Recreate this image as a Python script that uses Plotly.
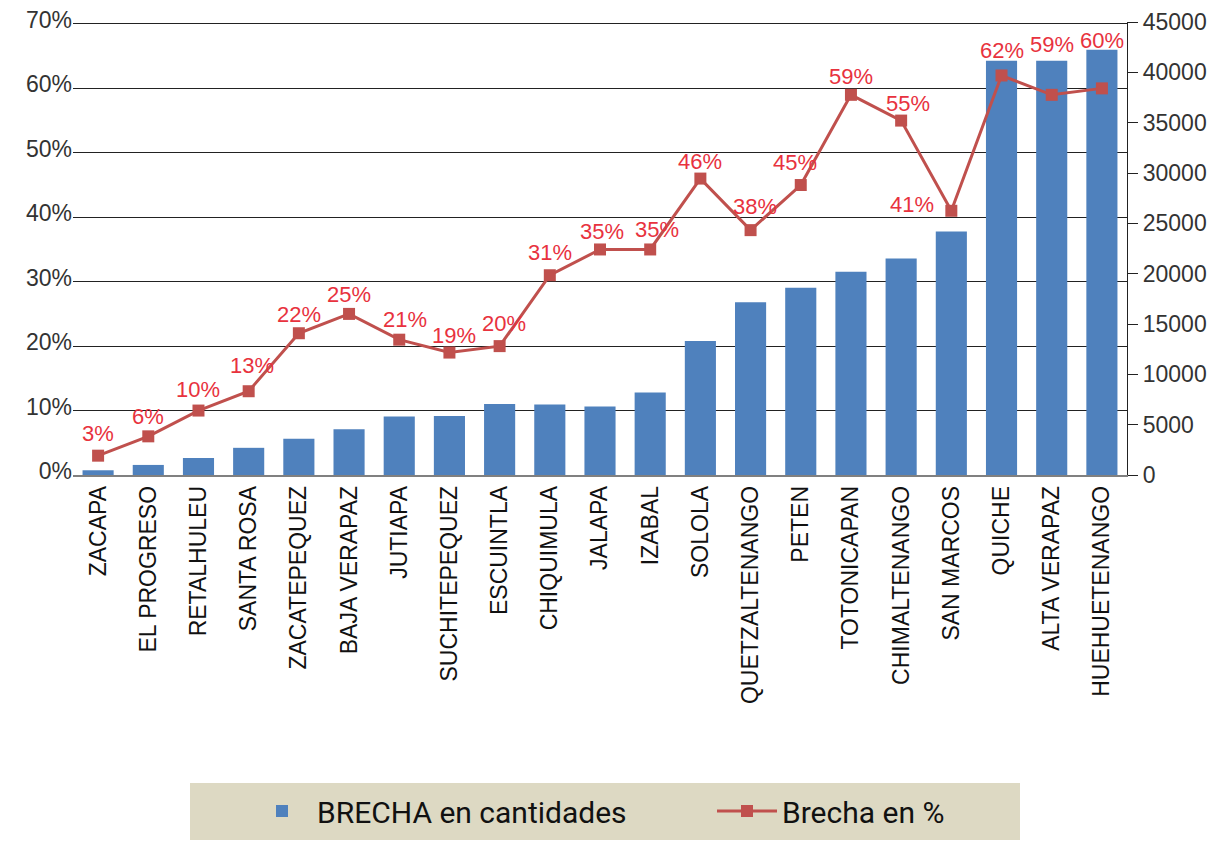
import plotly.graph_objects as go

departamentos = ["ZACAPA", "EL PROGRESO", "RETALHULEU", "SANTA ROSA", "ZACATEPEQUEZ",
                 "BAJA VERAPAZ", "JUTIAPA", "SUCHITEPEQUEZ", "ESCUINTLA", "CHIQUIMULA",
                 "JALAPA", "IZABAL", "SOLOLA", "QUETZALTENANGO", "PETEN", "TOTONICAPAN",
                 "CHIMALTENANGO", "SAN MARCOS", "QUICHE", "ALTA VERAPAZ", "HUEHUETENANGO"]
brecha_cantidades = [470, 1000, 1700, 2700, 3600, 4550, 5800, 5850, 7050, 7000,
                     6800, 8200, 13300, 17150, 18600, 20200, 21500, 24200, 41150, 41150, 42250]
brecha_pct = [3, 6, 10, 13, 22, 25, 21, 19, 20, 31, 35, 35, 46, 38, 45, 59, 55, 41, 62, 59, 60]

# label offsets (pixels) relative to each marker
label_dx = [0, 0, 0, 3, 0, 0, 6, 5, 4, 0, 2, 7, 0, 4, -6, 0, 7, -39, 0, 0, 0]
label_dy = [22, 20, 21, 26, 19, 19, 20, 17, 23, 23, 18, 20, 17, 24, 23, 18, 17, 6, 25, 50, 48]

fig = go.Figure()
fig.add_trace(go.Bar(
    x=departamentos, y=brecha_cantidades, name="BRECHA en cantidades",
    marker=dict(color="#4F81BD", line=dict(width=0)), yaxis="y",
))
fig.add_trace(go.Scatter(
    x=departamentos, y=brecha_pct, name="Brecha en %", mode="lines+markers",
    line=dict(color="#C0504D", width=3),
    marker=dict(symbol="square", size=12, color="#C0504D"),
    yaxis="y2",
))

annotations = []
for d, v, dx, dy in zip(departamentos, brecha_pct, label_dx, label_dy):
    annotations.append(dict(
        x=d, y=v, xref="x", yref="y2", text=f"{v}%", showarrow=False,
        xshift=dx, yshift=dy,
        font=dict(family="Liberation Sans, Arial, sans-serif", size=22, color="#E8323E"),
    ))

OFF = 8  # page body margin
W, H = 1219 - OFF, 841 - OFF
L, T = 73 - OFF, 22 - OFF
R = W - (1127 - OFF)
B = H - (475 - OFF)
pw, ph = W - L - R, H - T - B

def px_x(p):
    return (p - OFF - L) / pw

def px_y(p):
    return (H - B - (p - OFF)) / ph

fig.update_layout(
    width=W, height=H,
    margin=dict(l=L, r=R, t=T, b=B, autoexpand=False),
    paper_bgcolor="white", plot_bgcolor="white",
    bargap=0.38,
    showlegend=True,
    legend=dict(
        orientation="h", x=px_x(712), xanchor="center", y=px_y(811), yanchor="middle",
        bgcolor="rgba(0,0,0,0)",
        font=dict(family="Liberation Sans Narrow, Arial Narrow, Roboto, sans-serif", size=30, color="#111"),
        entrywidth=390, itemwidth=60,
        traceorder="normal",
    ),
    shapes=[dict(
        type="rect", xref="paper", yref="paper",
        x0=px_x(190), x1=px_x(1020), y0=px_y(840), y1=px_y(783),
        fillcolor="#DDD9C3", line=dict(width=0), layer="below",
    )],
    annotations=annotations,
    xaxis=dict(
        tickangle=-90, showgrid=False, showline=True, linecolor="#808080", linewidth=1.5,
        ticks="", tickfont=dict(family="Liberation Sans, Arial, sans-serif", size=23, color="#111"),
        range=[-0.5, len(departamentos) - 0.5],
    ),
    yaxis=dict(
        range=[0, 45000], dtick=5000, tickformat="d", side="right", showgrid=False,
        zeroline=False, showline=True, linecolor="#222", linewidth=1.3,
        ticks="outside", ticklen=10, tickcolor="#222", tickwidth=1.3,
        tickfont=dict(family="Liberation Sans, Arial, sans-serif", size=23, color="#333"),
    ),
    yaxis2=dict(
        range=[0, 70.3], tick0=0, dtick=10, ticksuffix="%", overlaying="y", side="left",
        showgrid=True, gridcolor="#222", gridwidth=1.3,
        zeroline=False, showline=False, ticks="",
        ticklabelshift=-4, ticklabeloverflow="allow",
        tickfont=dict(family="Liberation Sans, Arial, sans-serif", size=23, color="#333"),
    ),
)

fig.write_html("out.html")
